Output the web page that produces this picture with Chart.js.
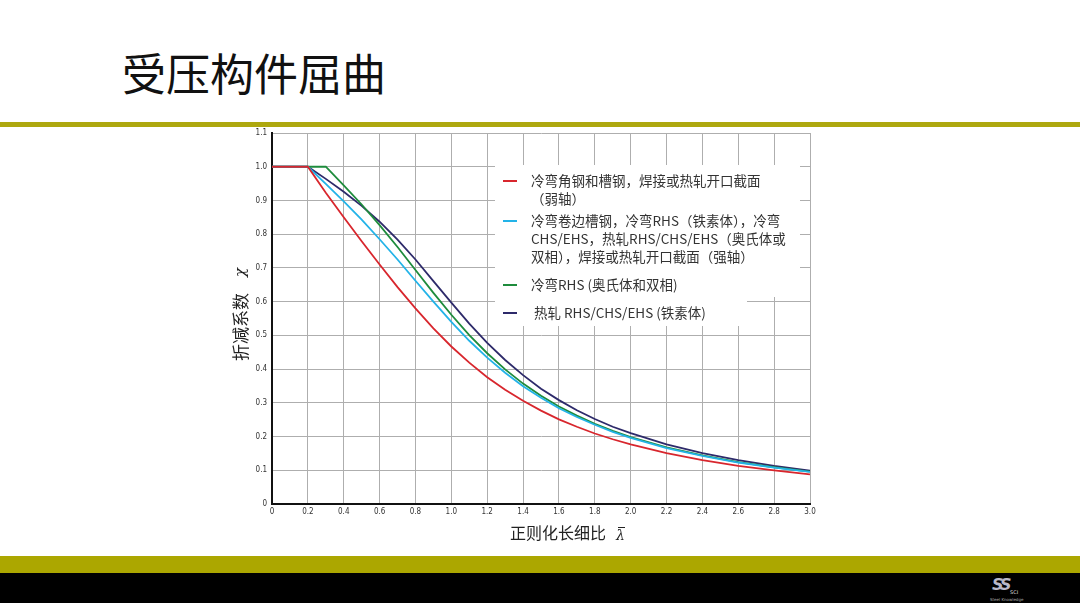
<!DOCTYPE html>
<html>
<head>
<meta charset="utf-8">
<title>受压构件屈曲</title>
<script src="https://cdn.jsdelivr.net/npm/chart.js@4.4.1/dist/chart.umd.min.js"></script>
<style>
  html, body { margin: 0; padding: 0; background: #fff; }
  #page { position: relative; width: 1080px; height: 603px; overflow: hidden; background: #fff; }
  #title { position: absolute; left: 122px; top: 40px; font-family: "Noto Sans CJK SC", sans-serif; font-size: 44px; color: #111; letter-spacing: 0px; }
  #topBar { position: absolute; left: 0; top: 122px; width: 1080px; height: 5px; background: #aea80f; }
  #bottomBand { position: absolute; left: 0; top: 556px; width: 1080px; height: 17px; background: #aca700; }
  #bottomBlack { position: absolute; left: 0; top: 573px; width: 1080px; height: 30px; background: #000; }
  #logo { position: absolute; left: 988px; top: 575px; width: 40px; height: 28px; color: #c9c9d6; font-family: "DejaVu Sans", sans-serif; }
  #logo .mark { position: absolute; left: 4px; top: 0px; font-size: 16px; font-weight: bold; font-style: italic; letter-spacing: -3px; color: #b9b9c9; }
  #logo .sci { position: absolute; left: 22px; top: 14px; font-size: 5px; color: #ddd; }
  #logo .sub { position: absolute; left: 2px; top: 22px; font-size: 4px; color: #aaa; white-space: nowrap; }
  #chartCanvas { position: absolute; left: 0; top: 0; }
</style>
</head>
<body>
<div id="page">
  <div id="title">受压构件屈曲</div>
  <div id="topBar"></div>
  <div id="bottomBand"></div>
  <div id="bottomBlack"></div>
  <div id="logo"><span class="mark">SS</span><span class="sci">SCI</span><span class="sub">Steel Knowledge</span></div>
  <canvas id="chartCanvas" width="1080" height="603"></canvas>
</div>
<script>
// 正则化长细比 (x)
var slenderness = [0, 0.2, 0.3, 0.4, 0.5, 0.6, 0.7, 0.8, 0.9, 1.0, 1.1, 1.2, 1.3, 1.4, 1.5, 1.6, 1.7, 1.8, 1.9, 2.0, 2.2, 2.4, 2.6, 2.8, 3.0];

// 折减系数 χ
var chiColdAngle = [1.0, 1.0, 0.923, 0.850, 0.779, 0.710, 0.643, 0.580, 0.521, 0.467, 0.419, 0.376, 0.339, 0.306, 0.277, 0.251, 0.229, 0.209, 0.192, 0.177, 0.151, 0.130, 0.113, 0.100, 0.088];
var chiColdLipped = [1.0, 1.0, 0.949, 0.897, 0.843, 0.785, 0.725, 0.662, 0.600, 0.540, 0.484, 0.434, 0.389, 0.349, 0.315, 0.284, 0.258, 0.235, 0.214, 0.196, 0.166, 0.143, 0.123, 0.108, 0.095];
var chiColdRhsAus = [1.0, 1.0, 1.0, 0.945, 0.888, 0.827, 0.762, 0.694, 0.626, 0.561, 0.501, 0.447, 0.399, 0.357, 0.321, 0.289, 0.262, 0.238, 0.217, 0.198, 0.168, 0.144, 0.124, 0.109, 0.096];
var chiHotFerritic = [1.0, 1.0, 0.964, 0.926, 0.884, 0.837, 0.784, 0.725, 0.661, 0.597, 0.535, 0.478, 0.427, 0.382, 0.342, 0.308, 0.278, 0.252, 0.229, 0.210, 0.177, 0.151, 0.130, 0.113, 0.099];

var xTicks = [0, 0.2, 0.4, 0.6, 0.8, 1.0, 1.2, 1.4, 1.6, 1.8, 2.0, 2.2, 2.4, 2.6, 2.8, 3.0];
var yTicks = [0, 0.1, 0.2, 0.3, 0.4, 0.5, 0.6, 0.7, 0.8, 0.9, 1.0, 1.1];

var seriesLabels = [
	['冷弯角钢和槽钢，焊接或热轧开口截面', '（弱轴）'],
	['冷弯卷边槽钢，冷弯RHS（铁素体），冷弯', 'CHS/EHS，热轧RHS/CHS/EHS（奥氏体或', '双相），焊接或热轧开口截面（强轴）'],
	['冷弯RHS (奥氏体和双相)'],
	[' 热轧 RHS/CHS/EHS (铁素体)']
];
var seriesColors = ['#d8262d', '#23b3e8', '#1e8c3c', '#2d2a6a'];

function toPoints(values) {
	return slenderness.map((x, i) => ({ x: x, y: values[i] }));
}

var tickFont = { family: "'Liberation Sans Narrow', 'DejaVu Sans Condensed', sans-serif", size: 8 };

// 범례 + 축 제목 (직접 그림)
const panelPlugin = {
	id: 'panelPlugin',
	beforeDatasetsDraw(chart) {
		const ctx = chart.ctx;
		const area = chart.chartArea;
		const left = area.left + 223;
		const top = area.top + 32;
		ctx.save();
		ctx.fillStyle = '#ffffff';
		ctx.fillRect(left, top, 305, 132);
		ctx.fillRect(left, top + 131, 252, 30);

		var rowY = [top + 16, top + 56, top + 120, top + 148];
		ctx.font = "13.5px 'Noto Sans CJK SC', sans-serif";
		ctx.textBaseline = 'middle';
		seriesLabels.forEach((lines, i) => {
			ctx.strokeStyle = seriesColors[i];
			ctx.lineWidth = 2;
			ctx.beginPath();
			ctx.moveTo(left + 8, rowY[i]);
			ctx.lineTo(left + 22, rowY[i]);
			ctx.stroke();
			ctx.fillStyle = '#333333';
			lines.forEach((line, j) => {
				ctx.fillText(line, left + 36, rowY[i] + j * 18);
			});
		});
		ctx.restore();
	},
	afterDraw(chart) {
		const ctx = chart.ctx;
		const area = chart.chartArea;
		ctx.save();
		ctx.fillStyle = '#222222';
		ctx.textBaseline = 'middle';
		// x 축 제목
		ctx.font = "16px 'Noto Sans CJK SC', sans-serif";
		ctx.textAlign = 'left';
		ctx.fillText('正则化长细比', area.left + 238, area.bottom + 29);
		ctx.font = "italic 14px 'DejaVu Serif', serif";
		ctx.fillText('λ', area.left + 344, area.bottom + 32);
		ctx.strokeStyle = '#222222';
		ctx.lineWidth = 1;
		ctx.beginPath();
		ctx.moveTo(area.left + 346, area.bottom + 23.5);
		ctx.lineTo(area.left + 353, area.bottom + 23.5);
		ctx.stroke();
		// y 축 제목
		ctx.translate(area.left - 31, area.top + 190);
		ctx.rotate(-Math.PI / 2);
		ctx.font = "17px 'Noto Sans CJK SC', sans-serif";
		ctx.textAlign = 'left';
		ctx.fillText('折减系数', -38, 0);
		ctx.font = "italic 15px 'DejaVu Serif', serif";
		ctx.fillText('χ', 46, 0);
		ctx.restore();
	}
};

var ctx = document.getElementById('chartCanvas').getContext('2d');
const config = {
	type: 'line',
	data: {
		datasets: seriesLabels.map((lines, i) => ({
			label: lines.join(''),
			data: toPoints([chiColdAngle, chiColdLipped, chiColdRhsAus, chiHotFerritic][i]),
			borderColor: seriesColors[i],
			borderWidth: 1.8,
			pointRadius: 0,
			fill: false,
			tension: 0
		}))
	},
	options: {
		responsive: false,
		animation: false,
		layout: { padding: { left: 200, top: 133, right: 270, bottom: 59 } },
		plugins: { legend: { display: false }, tooltip: { enabled: false } },
		scales: {
			x: {
				type: 'linear',
				min: 0,
				max: 3,
				afterFit: scale => { scale.height = 40; },
				afterBuildTicks: scale => { scale.ticks = xTicks.map(v => ({ value: v })); },
				ticks: {
					font: tickFont,
					color: '#333',
					padding: 3,
					maxRotation: 0,
					autoSkip: false,
					callback: v => v === 0 ? '0' : v.toFixed(1)
				},
				grid: { color: '#aeaeae', lineWidth: 1, drawTicks: false },
				border: { color: '#111', width: 2 }
			},
			y: {
				type: 'linear',
				min: 0,
				max: 1.1,
				afterFit: scale => { scale.width = 72; },
				afterBuildTicks: scale => { scale.ticks = yTicks.map(v => ({ value: v })); },
				ticks: {
					font: tickFont,
					color: '#333',
					padding: 5,
					autoSkip: false,
					callback: v => v === 0 ? '0' : v.toFixed(1)
				},
				grid: { color: '#aeaeae', lineWidth: 1, drawTicks: false },
				border: { color: '#111', width: 2 }
			}
		}
	},
	plugins: [panelPlugin]
};
var makeLineChart = (ctx, config) => new Chart(ctx, config);
makeLineChart(ctx, config);
</script>
</body>
</html>
